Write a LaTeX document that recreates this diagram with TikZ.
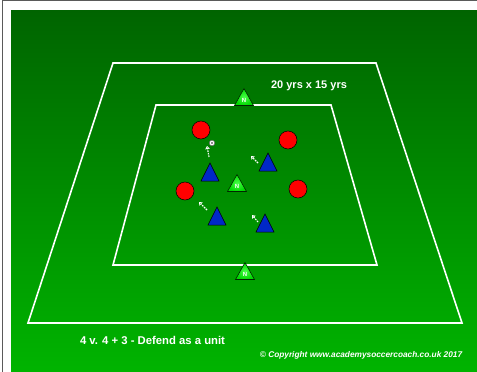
\documentclass[tikz,border=0pt]{standalone}
\usepackage{fontspec}
\setmainfont{Liberation Sans}
\usetikzlibrary{arrows.meta}
\definecolor{pitchtop}{RGB}{0,100,0}
\definecolor{pitchbot}{RGB}{0,180,0}
\definecolor{conein}{RGB}{70,255,70}
\definecolor{coneout}{RGB}{0,215,0}
\definecolor{bluepl}{RGB}{0,40,200}
\definecolor{redpl}{RGB}{255,0,0}
\definecolor{framegrey}{RGB}{90,90,90}
\tikzset{
  fieldline/.style={draw=white, line width=1.6pt, line join=miter},
  redplayer/.style={circle, draw=black, line width=0.5pt, fill=redpl, minimum size=18pt, inner sep=0pt},
  bluetri/.style={draw=black, line width=0.5pt, fill=bluepl, line join=miter},
  conetri/.style={draw=black!85!green, line width=0.6pt, inner color=conein, outer color=coneout, line join=miter},
  movearrow/.style={draw=white, line width=1.1pt, dash pattern=on 1.6pt off 1pt, -{Triangle[open, length=3pt, width=4.5pt, line width=0.8pt]}},
  labeltext/.style={text=white, font=\bfseries, inner sep=0pt},
  pics/cone/.style={code={
    \path[conetri] (-9.5,8.5) -- (0,-8.5) -- (9.5,8.5) -- cycle;
    \node[text=white, font=\bfseries\fontsize{6}{7}\selectfont, inner sep=0pt] at (0,3.5) {N};
  }},
  pics/defender/.style={code={
    \path[bluetri] (-9,9) -- (0,-9) -- (9,9) -- cycle;
  }}
}
\begin{document}
\begin{tikzpicture}[x=1pt, y=-1pt]
\useasboundingbox (0,0) rectangle (477,372);
\fill[white] (0,0) rectangle (477,372);
\draw[framegrey, line width=1pt] (2,372) -- (2,0.5) -- (477,0.5);
\shade[top color=pitchtop, bottom color=pitchbot] (11,10) rectangle (477,372);

% outer and inner areas
\path[fieldline] (113,63) -- (376,63) -- (462,323) -- (28,323) -- cycle;
\path[fieldline] (156,105) -- (331,105) -- (377,265) -- (113,265) -- cycle;

% labels
\node[labeltext, font=\bfseries\fontsize{11}{13}\selectfont] (size) at (309,86) {20 yrs x 15 yrs};
\node[labeltext, font=\bfseries\fontsize{11.3}{13}\selectfont] (title) at (152.5,340) {4 v. 4 + 3 - Defend as a unit};
\node[labeltext, font=\bfseries\itshape\fontsize{8.3}{10}\selectfont] (copy) at (361,355) {© Copyright www.academysoccercoach.co.uk 2017};

% neutral players (cones)
\pic at (244,97) {cone};
\pic at (237,183) {cone};
\pic at (245,271) {cone};

% attackers
\node[redplayer] (r1) at (201,130) {};
\node[redplayer] (r2) at (288,140) {};
\node[redplayer] (r3) at (185,191) {};
\node[redplayer] (r4) at (298,189) {};

% defenders
\pic at (210,172) {defender};
\pic at (268,162) {defender};
\pic at (217,216) {defender};
\pic at (265,223) {defender};

% movement arrows
\coordinate (a1s) at (209,157); \coordinate (a1e) at (207,146);
\coordinate (a2s) at (258,163); \coordinate (a2e) at (251,156);
\coordinate (a3s) at (207,210); \coordinate (a3e) at (199,202);
\coordinate (a4s) at (258,222); \coordinate (a4e) at (252,215);
\draw[movearrow] (a1s) -- (a1e);
\draw[movearrow] (a2s) -- (a2e);
\draw[movearrow] (a3s) -- (a3e);
\draw[movearrow] (a4s) -- (a4e);

% ball
\node[circle, draw=black!60, fill=white, line width=0.5pt, minimum size=5.5pt, inner sep=0pt] (ball) at (212,143) {};
\fill[black!60] (ball.center) circle (1.2pt);
\end{tikzpicture}
\end{document}
